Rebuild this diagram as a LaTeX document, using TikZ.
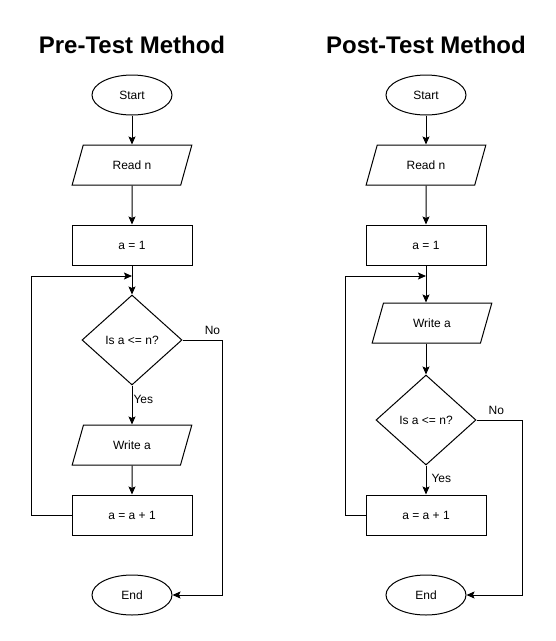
\documentclass[tikz,border=0pt]{standalone}
\usepackage{fontspec}
\setmainfont{Liberation Sans}
\usetikzlibrary{shapes.geometric,arrows.meta}

\begin{document}
\begin{tikzpicture}[x=1pt,y=-1pt,line width=1pt,
	every node/.style={font=\fontsize{12}{14}\selectfont},
	title/.style={font=\bfseries\fontsize{24}{28}\selectfont},
	term/.style={draw,ellipse,minimum width=80pt,minimum height=40pt,inner sep=0pt},
	io/.style={draw,trapezium,trapezium left angle=63.4,trapezium right angle=116.6,trapezium stretches=true,minimum width=120pt,minimum height=40pt,inner sep=0pt},
	proc/.style={draw,rectangle,minimum width=120pt,minimum height=40pt,inner sep=0pt},
	cond/.style={draw,diamond,minimum width=100pt,minimum height=90pt,inner sep=0pt},
	arr/.style={-{Stealth[length=8pt,width=7pt,inset=1.5pt]}},
	lbl/.style={inner sep=1pt}]
	\useasboundingbox (0,0) rectangle (556,641);
	% pre-test
	\node[title] (tpre) at (132,45) {Pre-Test Method};
	\node[term] (s1) at (132,95) {Start};
	\node[io] (r1) at (132,165) {Read n};
	\node[proc] (a1) at (132,245) {a = 1};
	\coordinate (j1) at (132,276);
	\node[cond] (d1) at (132,340) {Is a <= n?};
	\node[io] (w1) at (132,445) {Write a};
	\node[proc] (i1) at (132,515) {a = a + 1};
	\node[term] (e1) at (132,595) {End};
	\draw[arr] (s1) -- (r1);
	\draw[arr] (r1) -- (a1);
	\draw[arr] (a1) -- (d1);
	\draw[arr] (d1) -- (w1) node[lbl,pos=0.35,anchor=west] {Yes};
	\draw[arr] (w1) -- (i1);
	\draw[arr] (i1.west) -- ++(-40,0) |- (j1);
	\draw[arr] (d1.east) -- ++(40,0) node[lbl,pos=0.75,anchor=south,yshift=4pt] {No} |- (e1.east);
	% post-test
	\node[title] (tpost) at (426,45) {Post-Test Method};
	\node[term] (s2) at (426,95) {Start};
	\node[io] (r2) at (426,165) {Read n};
	\node[proc] (a2) at (426,245) {a = 1};
	\coordinate (j2) at (426,276);
	\node[io] (w2) at (432,323) {Write a};
	\node[cond] (d2) at (426,420) {Is a <= n?};
	\node[proc] (i2) at (426,515) {a = a + 1};
	\node[term] (e2) at (426,595) {End};
	\draw[arr] (s2) -- (r2);
	\draw[arr] (r2) -- (a2);
	\draw[arr] (a2) -- (a2 |- w2.north);
	\draw[arr] (w2.south -| d2) -- (d2);
	\draw[arr] (d2) -- (i2) node[lbl,pos=0.43,anchor=west,xshift=4pt] {Yes};
	\draw[arr] (i2.west) -- ++(-20,0) |- (j2);
	\draw[arr] (d2.east) -- ++(46,0) node[lbl,pos=0.43,anchor=south,yshift=4pt] {No} |- (e2.east);
\end{tikzpicture}
\end{document}
